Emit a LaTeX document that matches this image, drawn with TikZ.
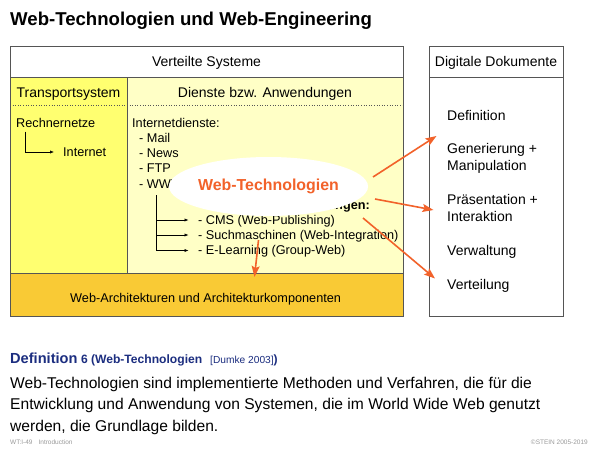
\documentclass[tikz,border=0pt]{standalone}
\usepackage{fontspec}
\setmainfont{Liberation Sans}
\usetikzlibrary{arrows.meta,shapes.geometric}
\definecolor{bright}{HTML}{FFFF70}
\definecolor{pale}{HTML}{FFFFC6}
\definecolor{gold}{HTML}{F9CA35}
\definecolor{wtorange}{HTML}{F2622A}
\definecolor{defblue}{HTML}{1C2E80}
\definecolor{frame}{HTML}{555555}
\definecolor{foot}{HTML}{9A9A9A}
\begin{document}
\begin{tikzpicture}[x=1pt,y=-1pt,
  lbl/.style={inner sep=0pt, anchor=base west, font=\fontsize{12.7}{15}\selectfont},
  hdr/.style={inner sep=0pt, anchor=base, font=\fontsize{14}{16}\selectfont},
  item/.style={inner sep=0pt, anchor=base west, font=\fontsize{14}{16}\selectfont},
  para/.style={inner sep=0pt, anchor=base west, font=\fontsize{15.6}{18}\selectfont},
  boxline/.style={draw=frame, line width=0.8pt},
  treeline/.style={draw=black, line width=0.6pt},
  treearrow/.style={draw=black, line width=0.6pt, -{Latex[length=4pt,width=3.2pt]}},
  hot/.style={draw=wtorange, line width=1.6pt, -{Stealth[length=11pt,width=8pt,inset=2pt]}}]
\useasboundingbox (0,0) rectangle (600,450);
\fill[white] (0,0) rectangle (600,450);

% title
\node[inner sep=0pt, anchor=base west, font=\fontsize{18.6}{21}\bfseries\selectfont] (title) at (10,25) {Web-Technologien und Web-Engineering};

% main box
\fill[bright] (10,77) rectangle (127,273);
\fill[pale] (127,77) rectangle (403,273);
\fill[gold] (10,273) rectangle (403,316);
\draw[frame, dotted, line width=0.6pt] (10,105) -- (403,105);
\draw[boxline] (10,46) rectangle (403,316);
\draw[boxline] (10,77) -- (403,77);
\draw[boxline] (10,273) -- (403,273);
\draw[boxline] (127,77) -- (127,273);

\node[hdr] (vs) at (206.5,66) {Verteilte Systeme};
\node[hdr] (ts) at (68.5,97) {Transportsystem};
\node[hdr] (da) at (265,97) {Dienste bzw. Anwendungen};
\node[lbl] (wa) at (70,302) {Web-Architekturen und Architekturkomponenten};

% left column
\node[lbl] (rn) at (16,127.5) {Rechnernetze};
\node[lbl] (inet) at (63,156) {Internet};
\coordinate (rnbend) at (25,152);
\draw[treeline] (25,131.5) -- (rnbend);
\draw[treearrow] (rnbend) -- ([xshift=-9pt]inet.west |- rnbend);

% right column of main box
\node[lbl] (idn) at (132,127.5) {Internetdienste:};
\node[lbl] (mail) at (139,142.7) {- Mail};
\node[lbl] (news) at (139,157.7) {- News};
\node[lbl] (ftp) at (139,172.8) {- FTP};
\node[lbl] (www) at (139,188) {- WWW};
\node[lbl, font=\fontsize{12.7}{15}\bfseries\selectfont, anchor=base east] (wan) at (370,209) {Web-Anwendungen:};
\node[lbl] (cms) at (198,224) {- CMS (Web-Publishing)};
\node[lbl] (such) at (198,239) {- Suchmaschinen (Web-Integration)};
\node[lbl] (elearn) at (198,254.3) {- E-Learning (Group-Web)};
\coordinate (treetop) at (156,195);
\coordinate (b1) at (156,220);
\coordinate (b2) at (156,235);
\coordinate (b3) at (156,250.5);
\draw[treeline] (treetop) -- (b3);
\draw[treearrow] (b1) -- (188.5,220);
\draw[treearrow] (b2) -- (188.5,235);
\draw[treearrow] (b3) -- (188.5,250.5);

% ellipse
\node[ellipse, fill=white, minimum width=184pt, minimum height=59pt, inner sep=0pt,
      text=wtorange, font=\fontsize{15.9}{17}\bfseries\selectfont] (wt) at (268.5,186.5) {\raisebox{-3pt}{Web-Technologien}};

% digital documents box
\draw[boxline] (429,46) rectangle (563,316);
\draw[boxline] (429,77) -- (563,77);
\node[hdr] (dd) at (496,66.5) {Digitale Dokumente};
\node[item] (def) at (447,120) {Definition};
\node[item] (gen) at (447,153.3) {Generierung +};
\node[item] (man) at (447,170) {Manipulation};
\node[item] (pra) at (447,204.3) {Präsentation +};
\node[item] (int) at (447,221) {Interaktion};
\node[item] (vew) at (447,255) {Verwaltung};
\node[item] (vet) at (447,289.3) {Verteilung};

% orange arrows
\coordinate (s1) at (373,177);
\coordinate (t1) at (436.5,136);
\coordinate (s2) at (375,199);
\coordinate (t2) at (433.5,210);
\coordinate (s3) at (363,218);
\coordinate (t3) at (435,278.5);
\coordinate (s4) at (258.5,240);
\coordinate (t4) at (254.5,277);
\draw[hot] (s1) -- (t1);
\draw[hot] (s2) -- (t2);
\draw[hot] (s3) -- (t3);
\draw[hot] (s4) -- (t4);

% definition
\node[inner sep=0pt, anchor=base west, text=defblue] (dhead) at (10,363)
  {{\fontsize{14.6}{16}\bfseries\selectfont Definition}\hspace{3.5pt}{\fontsize{12.1}{14}\bfseries\selectfont 6 (Web-Technologien}\hspace{8pt}{\fontsize{10.2}{12}\selectfont [Dumke 2003]}{\fontsize{12.1}{14}\bfseries\selectfont )}};
\node[para] (p1) at (10,388) {Web-Technologien sind implementierte Methoden und Verfahren, die für die};
\node[para] (p2) at (10,409.5) {Entwicklung und Anwendung von Systemen, die im World Wide Web genutzt};
\node[para] (p3) at (10,431) {werden, die Grundlage bilden.};

% footer
\node[inner sep=0pt, anchor=base west, text=foot, font=\fontsize{6.5}{8}\selectfont] (fl) at (10,444) {WT:I-49\hspace{6pt}Introduction};
\node[inner sep=0pt, anchor=base east, text=foot, font=\fontsize{6.5}{8}\selectfont] (fr) at (588,444) {©STEIN 2005-2019};
\end{tikzpicture}
\end{document}
